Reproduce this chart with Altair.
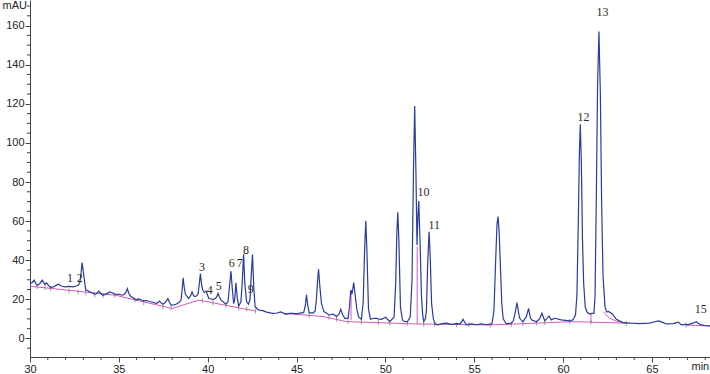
import altair as alt
import pandas as pd

# ---- chromatogram trace (time in min, signal in mAU) ----
trace_t = [30.0, 30.12, 30.24, 30.33, 30.41, 30.55, 30.69, 30.77, 30.84, 30.93, 31.05, 31.16, 31.35, 31.59, 31.75,
           31.96, 32.2, 32.43, 32.6, 32.71, 32.8, 32.87, 32.93, 32.99, 33.05, 33.14, 33.25, 33.36, 33.5, 33.64,
           33.75, 33.87, 33.98, 34.11, 34.3, 34.49, 34.6, 34.77, 35.0, 35.23, 35.38, 35.48, 35.56, 35.66, 35.8,
           35.98, 36.08, 36.17, 36.3, 36.39, 36.55, 36.73, 36.9, 37.1, 37.2, 37.29, 37.38, 37.48, 37.62, 37.76,
           37.85, 37.94, 38.1, 38.22, 38.4, 38.5, 38.56, 38.62, 38.68, 38.75, 38.92, 39.05, 39.12, 39.2, 39.29,
           39.4, 39.46, 39.53, 39.59, 39.65, 39.72, 39.8, 39.91, 39.98, 40.06, 40.18, 40.28, 40.43, 40.52, 40.58,
           40.65, 40.75, 40.9, 41.03, 41.15, 41.24, 41.31, 41.38, 41.46, 41.52, 41.59, 41.66, 41.74, 41.87, 41.94,
           42.02, 42.09, 42.19, 42.3, 42.38, 42.45, 42.52, 42.6, 42.67, 42.78, 42.9, 43.1, 43.27, 43.45, 43.64,
           43.9, 44.11, 44.25, 44.4, 44.6, 44.77, 45.0, 45.19, 45.4, 45.5, 45.56, 45.63, 45.71, 45.93, 46.05,
           46.12, 46.18, 46.24, 46.3, 46.4, 46.54, 46.68, 46.83, 47.06, 47.25, 47.4, 47.49, 47.6, 47.72, 47.9,
           47.98, 48.05, 48.12, 48.22, 48.3, 48.4, 48.5, 48.65, 48.75, 48.83, 48.9, 48.96, 49.05, 49.16, 49.35,
           49.5, 49.65, 49.78, 50.02, 50.25, 50.49, 50.58, 50.65, 50.7, 50.76, 50.85, 50.95, 51.0, 51.24, 51.4,
           51.5, 51.58, 51.65, 51.72, 51.78, 51.83, 51.88, 51.95, 52.03, 52.1, 52.16, 52.25, 52.31, 52.38, 52.46,
           52.53, 52.6, 52.7, 52.8, 52.96, 53.2, 53.43, 53.72, 54.0, 54.18, 54.3, 54.37, 54.45, 54.56, 54.84,
           55.12, 55.4, 55.69, 55.9, 56.0, 56.11, 56.2, 56.28, 56.34, 56.4, 56.47, 56.55, 56.63, 56.81, 57.09,
           57.2, 57.28, 57.41, 57.5, 57.56, 57.74, 57.93, 58.06, 58.15, 58.22, 58.5, 58.68, 58.81, 58.97, 59.1,
           59.21, 59.34, 59.53, 59.9, 60.37, 60.56, 60.7, 60.78, 60.86, 60.92, 60.97, 61.03, 61.09, 61.16, 61.25,
           61.35, 61.5, 61.6, 61.74, 61.8, 61.87, 61.94, 62.02, 62.1, 62.17, 62.25, 62.36, 62.45, 62.55, 62.65,
           62.77, 63.0, 63.37, 63.8, 64.31, 64.87, 65.1, 65.38, 65.6, 65.81, 66.2, 66.5, 66.65, 66.9, 67.03,
           67.3, 67.5, 67.6, 67.78, 68.0, 68.27]
trace_v = [28.0, 28.6, 29.8, 28.0, 27.2, 28.0, 29.8, 28.5, 27.6, 28.4, 27.0, 26.0, 26.5, 27.7, 26.8,
           26.4, 26.6, 26.4, 26.8, 27.2, 28.4, 33.0, 38.8, 35.0, 30.6, 24.7, 24.5, 23.8, 23.2, 22.5,
           23.0, 24.2, 23.0, 22.1, 22.8, 23.8, 23.5, 22.6, 22.5, 22.1, 23.2, 25.5, 23.0, 21.6, 20.8,
           19.6, 20.2, 20.1, 19.5, 19.2, 19.4, 18.9, 18.5, 17.9, 18.3, 19.1, 18.2, 17.5, 18.5, 20.4,
           18.5, 17.0, 17.2, 17.5, 18.5, 19.6, 25.0, 31.0, 26.0, 22.6, 20.4, 22.0, 23.8, 22.0, 21.3,
           22.0, 23.0, 28.0, 33.2, 28.0, 24.7, 23.5, 24.2, 22.5, 20.4, 20.3, 19.9, 20.4, 21.5, 23.0,
           21.5, 19.6, 18.5, 17.5, 19.0, 28.0, 34.4, 26.0, 17.8, 20.0, 28.4, 21.0, 16.5, 18.7, 28.0,
           43.1, 28.0, 18.7, 17.5, 20.0, 32.0, 42.9, 25.0, 16.2, 15.2, 14.5, 14.2, 13.6, 13.2, 12.8,
           13.0, 13.6, 13.0, 12.3, 12.8, 12.8, 12.6, 12.9, 13.2, 17.0, 22.3, 17.0, 13.2, 13.0, 14.0,
           20.0, 29.0, 35.4, 28.0, 18.0, 13.7, 13.0, 12.0, 12.4, 11.2, 12.5, 14.9, 12.0, 10.3, 10.3,
           16.0, 24.8, 22.7, 28.6, 22.0, 14.6, 11.0, 9.8, 18.0, 45.0, 60.1, 45.0, 15.0, 9.8, 10.3,
           10.3, 9.9, 9.8, 10.8, 8.6, 11.0, 28.0, 55.0, 64.5, 50.0, 16.0, 10.0, 8.9, 8.5, 11.0,
           30.0, 85.0, 118.9, 85.0, 47.8, 62.0, 70.3, 50.0, 22.0, 12.0, 8.6, 10.0, 14.0, 38.0, 54.5,
           40.0, 18.0, 10.0, 7.4, 6.9, 7.6, 7.8, 7.2, 7.6, 7.5, 8.5, 9.8, 8.5, 6.9, 7.4,
           7.0, 7.4, 7.0, 7.3, 7.5, 14.0, 38.0, 58.0, 62.3, 55.0, 38.0, 18.0, 10.0, 7.4, 7.8,
           9.0, 12.0, 18.3, 13.0, 10.3, 8.5, 11.0, 15.4, 11.0, 9.5, 8.5, 10.0, 12.9, 9.0, 10.3,
           11.5, 9.5, 10.3, 9.5, 9.0, 9.5, 12.0, 22.0, 60.0, 95.0, 109.5, 90.0, 52.0, 28.0, 16.0,
           13.5, 12.5, 12.8, 12.8, 22.0, 70.0, 128.0, 157.0, 125.0, 70.0, 32.0, 16.3, 13.5, 13.8, 13.2,
           12.5, 9.8, 8.1, 7.8, 7.6, 7.8, 8.4, 9.0, 8.2, 7.4, 7.6, 8.3, 6.9, 7.2, 6.9,
           7.8, 8.6, 7.8, 6.9, 6.6, 6.4]

# ---- integration baseline segments ----
base_seg = [1, 1, 1, 1, 1, 2, 2, 2, 2, 2, 2, 2, 2, 3, 3, 3, 3, 4, 4]
base_t = [30.0, 34.8, 38.0, 39.5, 42.7, 44.3, 46.5, 47.8, 51.7, 55.9, 59.0, 60.5, 63.56,
          62.25, 62.6, 63.0, 63.56, 66.93, 68.27]
base_v = [26.7, 22.1, 15.3, 19.6, 14.0, 12.8, 11.2, 8.6, 7.4, 6.9, 8.0, 8.6, 7.8,
          13.7, 10.5, 8.8, 7.8, 6.9, 6.3]

# ---- vertical drop lines ----
drop_t = [48.07, 51.79, 61.57]
drop_lo = [9.5, 7.5, 8.3]
drop_hi = [24.5, 47.0, 12.8]

# ---- peak boundary marks ----
mark_t = [30.4, 30.84, 31.16, 32.2, 32.7, 33.14, 33.64, 34.11, 34.77, 35.9, 36.4, 37.48, 37.94,
          39.7, 40.3, 41.03, 41.74, 42.19, 42.7, 45.71, 46.83, 47.25, 47.9, 48.65, 49.6, 50.25,
          51.24, 52.16, 52.78, 54.0, 54.7, 55.9, 57.09, 57.74, 58.5, 58.97, 60.37, 61.57, 63.56, 66.93]
mark_v = [26.5, 26.0, 25.5, 24.3, 23.6, 23.2, 22.4, 22.1, 22.1, 19.5, 18.2, 16.2, 15.5,
          19.4, 18.3, 17.0, 15.6, 15.0, 14.0, 11.9, 10.8, 10.0, 8.6, 8.4, 8.1, 8.0,
          7.6, 7.4, 7.2, 7.0, 7.0, 6.9, 7.2, 7.5, 7.9, 8.1, 8.6, 8.3, 7.8, 6.9]

# ---- peak labels ----
lab_text = ["1", "2", "3", "4", "5", "6", "7", "8", "9", "10", "11", "12", "13", "15"]
lab_t = [32.25, 32.8, 39.68, 40.12, 40.62, 41.36, 41.81, 42.15, 42.43, 52.15, 52.75, 61.15, 62.22, 67.75]
lab_v = [30.8, 30.8, 36.6, 25.0, 27.0, 38.6, 38.6, 45.3, 25.3, 75.0, 58.0, 113.3, 167.2, 15.0]

# ---- axis ticks ----
x_major = [30, 35, 40, 45, 50, 55, 60, 65]
x_minor = [31, 32, 33, 34, 36, 37, 38, 39, 41, 42, 43, 44, 46, 47, 48, 49, 51, 52, 53, 54,
           56, 57, 58, 59, 61, 62, 63, 64, 66, 67, 68]
y_major = [0, 20, 40, 60, 80, 100, 120, 140, 160]
y_minor = [-5, 5, 10, 15, 25, 30, 35, 45, 50, 55, 65, 70, 75, 85, 90, 95, 105, 110, 115,
           125, 130, 135, 145, 150, 155, 165, 170]

trace = pd.DataFrame({"t": trace_t, "v": trace_v})
base = pd.DataFrame({"seg": base_seg, "t": base_t, "v": base_v})
drops = pd.DataFrame({"t": drop_t, "v": drop_lo, "hi": drop_hi})
marks = pd.DataFrame({"t": mark_t, "v": mark_v})
labels = pd.DataFrame({"text": lab_text, "t": lab_t, "v": lab_v})
xmin_df = pd.DataFrame({"t": x_minor})
ymin_df = pd.DataFrame({"v": y_minor})

AX = "#444444"
xscale = alt.Scale(domain=[30, 68.27], nice=False, zero=False)
yscale = alt.Scale(domain=[-9.5, 173.1], nice=False, zero=False)

x_axis = alt.Axis(
    values=x_major, tickSize=5, labelOverlap=False, labelFlush=False, grid=False,
    domainColor=AX, tickColor=AX, labelColor="#222222",
    labelFont="Liberation Sans", labelFontSize=11, labelPadding=1,
    title="min", titleX=661, titleY=9, titleAlign="left", titleBaseline="middle",
    titleFont="Liberation Sans", titleFontSize=11, titleFontWeight="normal", titleColor="#222222",
)
y_axis = alt.Axis(
    values=y_major, tickSize=5, labelOverlap=False, labelFlush=False, grid=False,
    domainColor=AX, tickColor=AX, labelColor="#222222",
    labelFont="Liberation Sans", labelFontSize=11, labelPadding=1,
    title="mAU", titleAngle=0, titleX=-28, titleY=5, titleAlign="left", titleBaseline="middle",
    titleFont="Liberation Sans", titleFontSize=11, titleFontWeight="normal", titleColor="#222222",
)

X = alt.X("t:Q", scale=xscale, axis=x_axis)
Y = alt.Y("v:Q", scale=yscale, axis=y_axis)

PINK = "#d45bbd"
BLUE = "#2a3b9a"

base_layer = alt.Chart(base).mark_line(color=PINK, strokeWidth=1, clip=True).encode(
    x=X, y=Y, detail="seg:N", order="t:Q",
)
xminor_layer = alt.Chart(xmin_df).mark_rule(color=AX, strokeWidth=1).encode(
    x=X, y=alt.value(357), y2=alt.value(360),
)
yminor_layer = alt.Chart(ymin_df).mark_rule(color=AX, strokeWidth=1).encode(
    y=Y, x=alt.value(-3), x2=alt.value(0),
)
drop_layer = alt.Chart(drops).mark_rule(color=PINK, strokeWidth=1).encode(
    x=X, y=Y, y2="hi:Q"
)
mark_layer = alt.Chart(marks).mark_tick(color="#777777", orient="vertical", size=5, thickness=1).encode(
    x=X, y=Y
)
trace_layer = alt.Chart(trace).mark_line(color=BLUE, strokeWidth=1.2, clip=True).encode(
    x=X, y=Y, order="t:Q"
)
label_layer = alt.Chart(labels).mark_text(
    font="Liberation Serif", fontSize=12, color="#2f2b20", baseline="middle", align="center"
).encode(
    x=X, y=Y, text="text:N"
)

chart = alt.layer(base_layer, xminor_layer, yminor_layer, drop_layer, mark_layer, trace_layer,
                  label_layer).properties(
    width=680, height=357,
    autosize=alt.AutoSizeParams(type="none"),
    padding={"left": 30, "top": 0, "right": 0, "bottom": 17},
    background="white",
).configure_view(stroke=None)

chart.save("out.html", embed_options={"renderer": "svg", "actions": False})
